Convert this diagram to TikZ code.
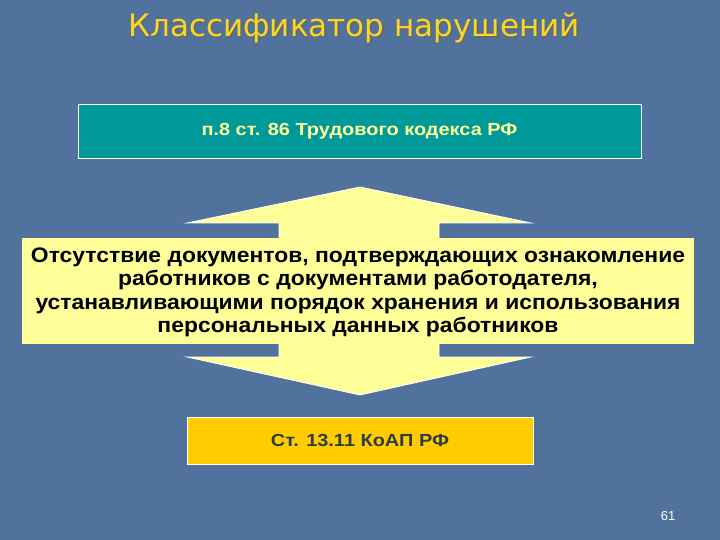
\documentclass[tikz,border=0pt]{standalone}
\usepackage{fontspec}
\setmainfont{Liberation Sans}
\newfontfamily\titlefont{DejaVu Sans}
\newfontfamily\widebold[FakeStretch=1.14]{Liberation Sans Bold}
\newfontfamily\midbold[FakeStretch=1.09]{Liberation Sans Bold}
\definecolor{bgblue}{RGB}{82,114,158}
\definecolor{teal}{RGB}{0,153,153}
\definecolor{lightyel}{RGB}{255,255,153}
\definecolor{gold}{RGB}{255,204,0}
\definecolor{darktxt}{RGB}{45,60,70}
\definecolor{titleyel}{RGB}{255,214,30}
\tikzset{
  box/.style={draw=white, line width=0.8pt, inner sep=0pt},
  bodytext/.style={font=\midbold\fontsize{21}{23.5}\selectfont, align=center},
  smalltext/.style={font=\widebold\fontsize{17.5}{20}\selectfont},
}
\begin{document}
\begin{tikzpicture}[x=1pt,y=-1pt]
\useasboundingbox (0,0) rectangle (720,540);
\fill[bgblue] (0,0) rectangle (720,540);
% title
\node[text=black!60, opacity=0.6] at (355.5,29.5) {\titlefont\fontsize{31}{36}\selectfont Классификатор нарушений};
\node[text=titleyel] (title) at (354,28) {\titlefont\fontsize{31}{36}\selectfont Классификатор нарушений};
% top box
\node[box, fill=teal, minimum width=563, minimum height=54, text=lightyel, smalltext] (top) at (359.5,131) {п.8 ст. 86 Трудового кодекса РФ};
% double arrow
\draw[draw=white, line width=0.8pt, fill=lightyel]
  (360,187) -- (531,223) -- (439,223) -- (439,357) -- (531,357) -- (360,395)
  -- (187,357) -- (279,357) -- (279,223) -- (187,223) -- cycle;
% middle yellow box
\node[fill=lightyel, minimum width=672, minimum height=106, inner sep=0pt] (mid) at (358,291) {};
\node[bodytext] at ([yshift=-1.5]mid.center) {Отсутствие документов, подтверждающих ознакомление\\работников с документами работодателя,\\устанавливающими порядок хранения и использования\\персональных данных работников};
% bottom box
\node[box, fill=gold, minimum width=346, minimum height=47, text=darktxt, smalltext] (bot) at (360,440.5) {Ст. 13.11 КоАП РФ};
% page number
\node[text=white, font=\fontsize{13}{15}\selectfont] (num) at (668,516) {61};
\end{tikzpicture}
\end{document}
